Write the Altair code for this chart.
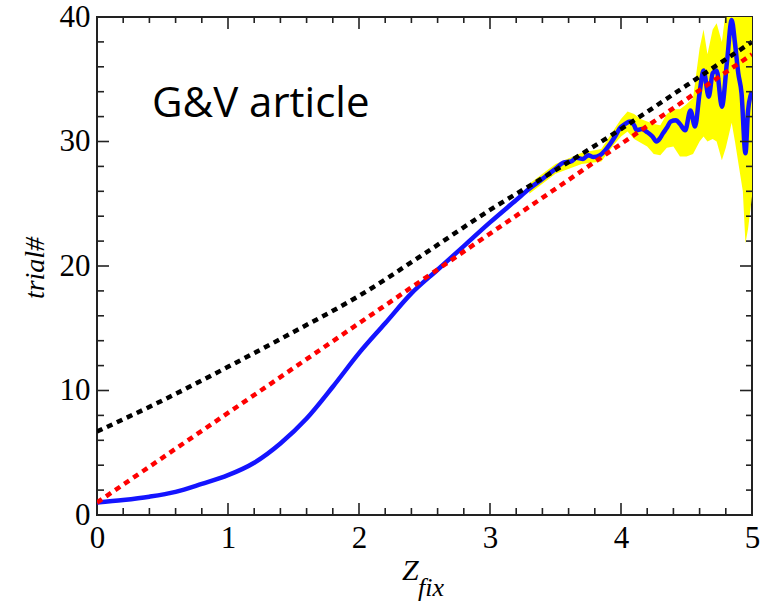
import altair as alt
import pandas as pd

# ---- data ----
blue_x = [0.0, 0.2, 0.4, 0.6, 0.8, 1.0, 1.2, 1.4, 1.6, 1.8, 2.0, 2.2, 2.4, 2.6, 2.8, 3.0,
          3.2, 3.3, 3.4, 3.5, 3.56, 3.62, 3.66, 3.71, 3.75, 3.79, 3.84, 3.88, 3.92, 3.96,
          3.99, 4.03, 4.07, 4.1, 4.12, 4.16, 4.2, 4.24, 4.27, 4.3, 4.32, 4.35, 4.38, 4.42,
          4.45, 4.49, 4.53, 4.565, 4.6, 4.63, 4.67, 4.7, 4.73, 4.77, 4.81, 4.845, 4.87,
          4.895, 4.92, 4.95, 4.97, 4.99, 5.0]
blue_y = [1.0, 1.2, 1.47, 1.86, 2.5, 3.2, 4.2, 5.75, 7.75, 10.3, 13.0, 15.4, 17.8, 19.7, 21.6, 23.5,
          25.3, 26.2, 27.0, 27.8, 28.3, 28.4, 28.7, 28.6, 28.9, 28.75, 28.9, 29.3, 29.85, 30.5,
          31.05, 31.4, 31.6, 31.3, 30.9, 31.0, 30.75, 30.4, 30.0, 30.3, 30.65, 31.1, 31.6, 31.7,
          31.4, 30.9, 32.5, 31.2, 33.9, 35.7, 33.6, 35.5, 35.7, 32.8, 36.5, 39.75, 37.9,
          35.5, 33.9, 29.05, 32.5, 33.7, 34.0]

band_x = [3.3, 3.5, 3.7, 3.85, 3.95, 4.0, 4.05, 4.1, 4.15, 4.2, 4.25, 4.3, 4.35, 4.4, 4.45,
          4.5, 4.55, 4.6, 4.63, 4.66, 4.7, 4.73, 4.77, 4.8, 4.845, 4.87, 4.9, 4.93, 4.95, 4.97, 5.0]
band_lo = [25.8, 27.4, 28.2, 28.4, 29.8, 30.4, 30.8, 30.2, 29.9, 29.6, 29.0, 28.9, 29.5, 29.6, 28.8,
           28.8, 29.0, 30.0, 30.4, 30.0, 30.2, 30.0, 28.5, 29.5, 31.5, 30.0, 28.0, 26.0, 21.8, 23.0, 25.6]
band_hi = [26.6, 28.2, 29.1, 29.4, 31.0, 31.8, 32.4, 32.2, 31.8, 31.6, 31.4, 31.3, 32.2, 32.6, 32.6,
           33.0, 33.5, 37.5, 39.0, 37.0, 39.0, 39.5, 38.0, 40.5, 42.0, 41.0, 40.5, 40.0, 40.5, 41.0, 42.0]

black_x = [0.0, 0.5, 1.0, 1.5, 2.0, 2.5, 3.0, 3.5, 4.0, 4.5, 5.0]
black_y = [6.7, 9.2, 11.9, 14.7, 17.6, 21.0, 24.5, 27.7, 31.0, 34.5, 38.0]

red_x = [0.0, 5.0]
red_y = [1.0, 37.0]

x_labels = [0, 1, 2, 3, 4, 5]
y_labels = [0, 10, 20, 30, 40]
x_major = [1, 2, 3, 4]
x_minor = [0.2, 0.4, 0.6, 0.8, 1.2, 1.4, 1.6, 1.8, 2.2, 2.4, 2.6, 2.8,
           3.2, 3.4, 3.6, 3.8, 4.2, 4.4, 4.6, 4.8]
y_major = [10, 20, 30]
y_minor = [2, 4, 6, 8, 12, 14, 16, 18, 22, 24, 26, 28, 32, 34, 36, 38]

W, H = 655, 498
SERIF = "Liberation Serif"

xs = alt.Scale(domain=[0, 5], nice=False, zero=False)
ys = alt.Scale(domain=[0, 40], nice=False, zero=False)

xax = alt.Axis(values=x_labels, ticks=False, domain=False, grid=False, labelFont=SERIF,
               labelFontSize=31, labelColor="black", labelPadding=8, format="d", title=None,
               labelFlush=False)
yax = alt.Axis(values=y_labels, ticks=False, domain=False, grid=False, labelFont=SERIF,
               labelFontSize=31, labelColor="black", labelPadding=7, format="d", title=None)

band_df = pd.DataFrame({"x": band_x, "lo": band_lo, "hi": band_hi})
blue_df = pd.DataFrame({"x": blue_x, "y": blue_y})
black_df = pd.DataFrame({"x": black_x, "y": black_y})
red_df = pd.DataFrame({"x": red_x, "y": red_y})

band = alt.Chart(band_df).mark_area(color="#ffff00", clip=True, opacity=1).encode(
    x=alt.X("x:Q", scale=xs, axis=xax),
    y=alt.Y("lo:Q", scale=ys, axis=yax),
    y2="hi:Q",
)
blue = alt.Chart(blue_df).mark_line(color="#1414ff", strokeWidth=4.5, clip=True,
                                    interpolate="monotone").encode(
    x=alt.X("x:Q", scale=xs), y=alt.Y("y:Q", scale=ys)
)
black = alt.Chart(black_df).mark_line(color="black", strokeWidth=4.5, strokeDash=[6, 5],
                                      clip=True, interpolate="monotone").encode(
    x=alt.X("x:Q", scale=xs), y=alt.Y("y:Q", scale=ys)
)
red = alt.Chart(red_df).mark_line(color="#ff0000", strokeWidth=4.5, strokeDash=[6, 5],
                                  clip=True).encode(
    x=alt.X("x:Q", scale=xs), y=alt.Y("y:Q", scale=ys)
)

TC = "#222222"


def xticks(vals, y0, y1):
    return alt.Chart(pd.DataFrame({"v": vals})).mark_rule(color=TC, strokeWidth=1.6).encode(
        x=alt.X("v:Q", scale=xs), y=alt.value(y0), y2=alt.value(y1))


def yticks(vals, x0, x1):
    return alt.Chart(pd.DataFrame({"v": vals})).mark_rule(color=TC, strokeWidth=1.6).encode(
        y=alt.Y("v:Q", scale=ys), x=alt.value(x0), x2=alt.value(x1))


ticks = [
    xticks(x_major, H, H - 12), xticks(x_minor, H, H - 7),
    xticks(x_major, 0, 12), xticks(x_minor, 0, 6),
    yticks(y_major, 0, 12), yticks(y_minor, 0, 7),
    yticks(y_major, W, W - 12), yticks(y_minor, W, W - 6),
]

one = pd.DataFrame({"t": [""]})
note = alt.Chart(one).mark_text(text="G&V article", font="Open Sans", fontSize=42,
                                align="left", baseline="alphabetic", color="black").encode(
    x=alt.value(55), y=alt.value(100))
zt = alt.Chart(one).mark_text(text="Z", font=SERIF, fontSize=30, fontStyle="italic",
                              align="left", baseline="alphabetic", color="black").encode(
    x=alt.value(305), y=alt.value(563))
fix = alt.Chart(one).mark_text(text="fix", font=SERIF, fontSize=26, fontStyle="italic",
                               align="left", baseline="alphabetic", color="black").encode(
    x=alt.value(321), y=alt.value(579))
ytitle = alt.Chart(one).mark_text(text="trial#", font=SERIF, fontSize=28, fontStyle="italic",
                                  align="center", baseline="middle", angle=270,
                                  color="black").encode(
    x=alt.value(-61), y=alt.value(251))

chart = alt.layer(band, blue, black, red, *ticks, note, zt, fix, ytitle).properties(
    width=W, height=H,
    autosize=alt.AutoSizeParams(type="none"),
    padding={"left": 97, "top": 17, "right": 13, "bottom": 87},
    background="white",
).configure_view(stroke=TC, strokeWidth=2)

chart.save("out.html", embed_options={"renderer": "svg", "actions": False})
